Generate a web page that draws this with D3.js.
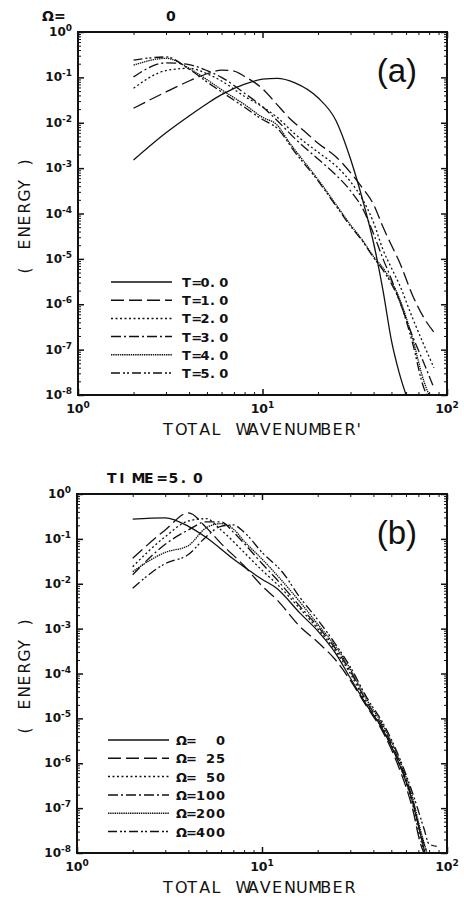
<!DOCTYPE html>
<html>
<head>
<meta charset="utf-8">
<script src="https://cdn.jsdelivr.net/npm/d3@7"></script>
<style>
  body { margin: 0; background: #fff; }
  text { fill: #111; }
</style>
</head>
<body>
<svg></svg>
<script>
// ---- data: wavenumber k and log10(energy) ----
// panel (a): Omega = 0, spectra at T = 0..5
const kT0 = [2, 3, 4, 5, 6, 8, 10, 12, 15, 20, 25, 30, 35, 40, 45, 50, 55, 60];
const eT0 = [-2.82, -2.22, -1.85, -1.58, -1.38, -1.15, -1.04, -1.02, -1.12, -1.45, -1.95, -2.8, -3.72, -4.65, -5.7, -6.8, -7.5, -8.0];
const kT1 = [2, 3, 4, 5, 6, 7, 8, 10, 12, 14, 17, 20, 25, 30, 35, 40, 45, 50, 55, 65, 75, 85];
const eT1 = [-1.68, -1.32, -1.08, -0.92, -0.84, -0.86, -0.98, -1.25, -1.6, -1.9, -2.2, -2.45, -2.75, -3.1, -3.45, -3.8, -4.3, -4.7, -5.05, -5.8, -6.3, -6.62];
const kT2 = [2, 3, 4, 5, 6, 8, 10, 12, 15, 20, 25, 30, 35, 40, 45, 50, 55, 65, 75, 85];
const eT2 = [-1.24, -0.85, -0.8, -0.92, -1.08, -1.42, -1.65, -1.88, -2.25, -2.65, -2.95, -3.3, -3.7, -4.2, -4.8, -5.2, -5.55, -6.3, -6.9, -7.4];
const kT3 = [2, 3, 4, 5, 6, 8, 10, 12, 15, 20, 25, 30, 35, 40, 45, 50, 55, 65, 75, 85];
const eT3 = [-0.99, -0.68, -0.72, -0.85, -1.0, -1.35, -1.65, -1.95, -2.35, -2.8, -3.15, -3.5, -3.9, -4.45, -5.0, -5.45, -5.9, -6.7, -7.3, -7.85];
const kT4 = [2, 3, 4, 5, 6, 8, 10, 12, 14, 15, 20, 25, 30, 35, 40, 45, 50, 55, 65, 75, 80];
const eT4 = [-0.73, -0.58, -0.8, -1.05, -1.27, -1.6, -1.88, -2.05, -2.44, -2.6, -3.25, -3.8, -4.25, -4.6, -4.95, -5.2, -5.5, -5.85, -6.75, -7.7, -8.0];
const kT5 = [2, 3, 4, 5, 6, 8, 10, 12, 15, 20, 25, 30, 35, 40, 45, 50, 55, 65, 75, 78];
const eT5 = [-0.62, -0.55, -0.82, -1.1, -1.32, -1.66, -1.93, -2.12, -2.65, -3.28, -3.83, -4.28, -4.62, -4.97, -5.25, -5.55, -5.9, -6.85, -7.85, -8.0];

// panel (b): T = 5.0, spectra for Omega = 0..400
const kO0 = [2, 3, 4, 5, 7, 10, 12, 16, 20, 25, 30, 37, 45, 55, 65, 72, 76];
const eO0 = [-0.56, -0.53, -0.72, -0.97, -1.45, -1.9, -2.1, -2.65, -3.05, -3.55, -4.1, -4.72, -5.25, -6.0, -6.85, -7.6, -8.0];
const kO25 = [2, 3, 4, 5, 6, 8, 10, 12, 16, 20, 25, 30, 37, 45, 55, 65, 72, 75];
const eO25 = [-1.43, -0.8, -0.42, -0.75, -1.1, -1.6, -2.05, -2.35, -2.95, -3.3, -3.7, -4.15, -4.75, -5.3, -6.1, -7.0, -7.8, -8.0];
const kO50 = [2, 3, 4, 5, 6, 8, 10, 12, 16, 20, 25, 30, 37, 45, 55, 65, 72, 76];
const eO50 = [-1.62, -0.95, -0.6, -0.55, -0.8, -1.3, -1.7, -2.0, -2.55, -3.0, -3.5, -4.0, -4.7, -5.25, -6.0, -6.9, -7.7, -8.0];
const kO100 = [2, 3, 4, 5, 6, 7, 8, 10, 12, 16, 20, 25, 30, 37, 45, 55, 65, 72, 78];
const eO100 = [-1.8, -1.12, -0.8, -0.62, -0.62, -0.85, -1.1, -1.55, -1.9, -2.5, -2.95, -3.45, -3.95, -4.65, -5.2, -5.95, -6.8, -7.55, -8.0];
const kO200 = [2, 3, 4, 5, 6, 7, 8, 10, 12, 16, 20, 25, 30, 37, 45, 55, 65, 72, 78];
const eO200 = [-1.73, -1.3, -1.15, -0.75, -0.66, -0.78, -1.05, -1.45, -1.8, -2.4, -2.9, -3.4, -3.9, -4.6, -5.15, -5.9, -6.75, -7.5, -8.0];
const kO400 = [2, 3, 4, 5, 6, 7, 8, 10, 13, 16, 20, 25, 30, 37, 45, 55, 65, 75, 80, 88];
const eO400 = [-2.1, -1.55, -1.35, -0.95, -0.72, -0.69, -0.85, -1.3, -1.76, -2.3, -2.8, -3.35, -3.85, -4.55, -5.1, -5.85, -6.65, -7.45, -7.8, -7.85];

const legendA = ["T=0.0", "T=1.0", "T=2.0", "T=3.0", "T=4.0", "T=5.0"];
const legendB = ["\u03A9=  0", "\u03A9= 25", "\u03A9= 50", "\u03A9=100", "\u03A9=200", "\u03A9=400"];
const xMajor = [1, 10, 100];
const xTickLabels = ["0", "1", "2"];
const yMajor = [1, 1e-1, 1e-2, 1e-3, 1e-4, 1e-5, 1e-6, 1e-7, 1e-8];
const yTickLabels = ["0", "-1", "-2", "-3", "-4", "-5", "-6", "-7", "-8"];

// line styles: solid, long dash, dots, dash-dot, fine dots, dash-dot-dot
const dashes = [null, "13,5", "2,2.5", "10,3,2,3", "1.4,0.8", "9,3,2,2,2,3"];

const W = 464, H = 898;
const svg = d3.select("svg").attr("width", W).attr("height", H);

function minorTicks(lo, hi) {
  const out = [];
  for (let d = lo; d < hi; d *= 10)
    for (let m = 2; m <= 9; m++) out.push(m * d);
  return out;
}

// plotter-style lettering: every character on a fixed grid
function gridText(sel, x0, y, str, cw, size) {
  return sel.append("text")
    .attr("x", str.split("").map((c, i) => x0 + i * cw).join(" "))
    .attr("y", y)
    .attr("font-family", "DejaVu Sans")
    .attr("font-size", size)
    .attr("xml:space", "preserve").style("white-space", "pre")
    .text(str);
}

function drawPanel(p) {
  const x = d3.scaleLog().domain([1, 100]).range([p.left, p.right]);
  const y = d3.scaleLog().domain([1e-8, 1]).range([p.bottom, p.top]);
  const g = svg.append("g");

  g.append("clipPath").attr("id", p.id + "clip")
    .append("rect")
    .attr("x", p.left).attr("y", p.top)
    .attr("width", p.right - p.left).attr("height", p.bottom - p.top);

  // ticks on all four sides, pointing inward
  const sides = [
    [d3.axisBottom(x), `translate(0,${p.bottom})`, xMajor, minorTicks(1, 100)],
    [d3.axisTop(x), `translate(0,${p.top})`, xMajor, minorTicks(1, 100)],
    [d3.axisLeft(y), `translate(${p.left},0)`, yMajor, minorTicks(1e-8, 1)],
    [d3.axisRight(y), `translate(${p.right},0)`, yMajor, minorTicks(1e-8, 1)]
  ];
  sides.forEach(([ax, tr, major, minor]) => {
    g.append("g").attr("transform", tr)
      .call(ax.tickValues(minor).tickSize(-3).tickFormat(""))
      .call(s => s.select(".domain").remove())
      .selectAll("line").attr("stroke", "#111").attr("stroke-width", 1);
    g.append("g").attr("transform", tr)
      .call(ax.tickValues(major).tickSize(-6).tickFormat(""))
      .call(s => s.select(".domain").remove())
      .selectAll("line").attr("stroke", "#111").attr("stroke-width", 1.5);
  });

  g.append("rect")
    .attr("x", p.left).attr("y", p.top)
    .attr("width", p.right - p.left).attr("height", p.bottom - p.top)
    .attr("fill", "none").attr("stroke", "#111").attr("stroke-width", 2);

  // tick labels 10^n
  const tl = g.append("g").attr("font-family", "DejaVu Sans").attr("font-weight", "bold");
  yMajor.forEach((v, i) => {
    const t = tl.append("text").attr("x", p.left - 6).attr("y", y(v) + 4)
      .attr("text-anchor", "end").attr("font-size", 12);
    t.append("tspan").text("10");
    t.append("tspan").attr("dy", -5).attr("font-size", 9).text(yTickLabels[i]);
  });
  xMajor.forEach((v, i) => {
    const t = tl.append("text").attr("x", x(v)).attr("y", p.bottom + 18)
      .attr("text-anchor", "middle").attr("font-size", 12.5);
    t.append("tspan").text("10");
    t.append("tspan").attr("dy", -5).attr("font-size", 9).text(xTickLabels[i]);
  });

  // curves
  const line = d3.line()
    .x(d => x(d[0]))
    .y(d => y(Math.pow(10, d[1])))
    .curve(d3.curveMonotoneX);
  const lines = g.append("g").attr("clip-path", `url(#${p.id}clip)`);
  p.series.forEach((s, i) => {
    lines.append("path")
      .datum(d3.zip(s[0], s[1]))
      .attr("d", line)
      .attr("fill", "none")
      .attr("stroke", "#111")
      .attr("stroke-width", 1.3)
      .attr("stroke-dasharray", dashes[i]);
  });

  // legend
  const lg = g.append("g");
  p.legend.forEach((name, i) => {
    const ly = p.legendY + i * p.legendStep;
    lg.append("line")
      .attr("x1", p.legendX).attr("x2", p.legendX + 61)
      .attr("y1", ly).attr("y2", ly)
      .attr("stroke", "#111").attr("stroke-width", 1.5)
      .attr("stroke-dasharray", dashes[i]);
    gridText(lg, p.legendTextX, ly + 5, name, p.legendCw, 13)
      .attr("font-weight", "bold");
  });

  // panel letter
  g.append("text")
    .attr("x", 417).attr("y", p.top + 50)
    .attr("text-anchor", "end")
    .attr("font-family", "Liberation Sans").attr("font-size", 33)
    .text(p.letter);

  // axis titles
  gridText(g, 163, p.bottom + 40, p.xTitle, 12.1, 16);
  const yt = g.append("g")
    .attr("transform", `translate(30,${(p.top + p.bottom) / 2}) rotate(-90)`);
  gridText(yt, -60, 0, "( ENERGY )", 12, 15.5);
}

drawPanel({
  id: "a", left: 78, right: 447, top: 32, bottom: 395,
  series: [[kT0, eT0], [kT1, eT1], [kT2, eT2], [kT3, eT3], [kT4, eT4], [kT5, eT5]],
  legend: legendA, legendX: 111, legendY: 282, legendStep: 18.2,
  legendTextX: 182, legendCw: 9.3,
  letter: "(a)", xTitle: "TOTAL WAVENUMBER'"
});
drawPanel({
  id: "b", left: 77, right: 447, top: 494, bottom: 853,
  series: [[kO0, eO0], [kO25, eO25], [kO50, eO50], [kO100, eO100], [kO200, eO200], [kO400, eO400]],
  legend: legendB, legendX: 108, legendY: 740, legendStep: 18.3,
  legendTextX: 176, legendCw: 10,
  letter: "(b)", xTitle: "TOTAL WAVENUMBER"
});

// panel headings
const head = svg.append("g").attr("font-weight", "bold");
gridText(head, 42, 21, "\u03A9=", 12, 14).attr("font-weight", "bold");
gridText(head, 166, 21, "0", 12, 14).attr("font-weight", "bold");
gridText(head, 107, 483, "TIME=5.0", 12.3, 14).attr("font-weight", "bold");
</script>
</body>
</html>
